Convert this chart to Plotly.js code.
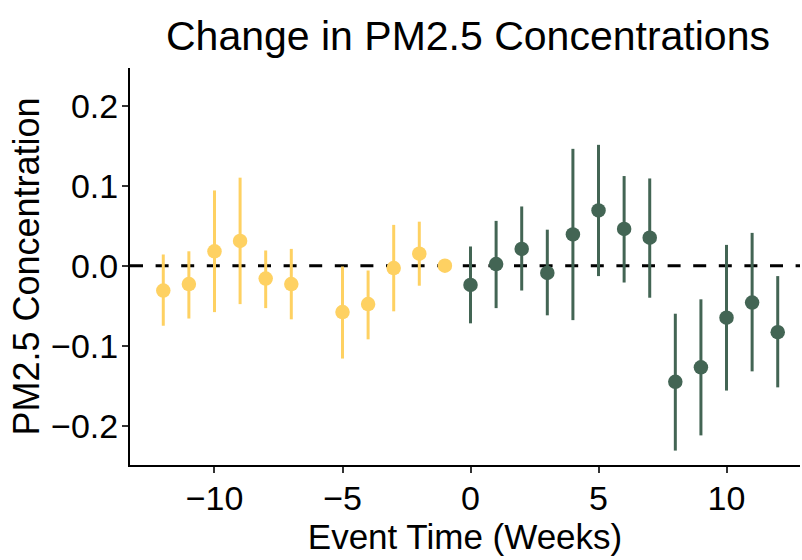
<!DOCTYPE html>
<html>
<head>
<meta charset="utf-8">
<script src="https://cdn.plot.ly/plotly-3.0.1.min.js"></script>
<style>html,body{margin:0;padding:0;background:#fff;}#chart{width:802px;height:560px;}</style>
</head>
<body>
<div id="chart"></div>
<script>
// Pre-event weeks
const preWeeks = [-12, -11, -10, -9, -8, -7, -5, -4, -3, -2, -1];
const preEst   = [-0.031, -0.023, 0.018, 0.031, -0.016, -0.023, -0.058, -0.048, -0.003, 0.015, 0.000];
const preHi    = [0.014, 0.018, 0.094, 0.110, 0.019, 0.021, -0.001, -0.006, 0.051, 0.055, 0.000];
const preLo    = [-0.075, -0.066, -0.058, -0.048, -0.053, -0.067, -0.116, -0.092, -0.057, -0.025, 0.000];

// Post-event weeks
const postWeeks = [0, 1, 2, 3, 4, 5, 6, 7, 8, 9, 10, 11, 12];
const postEst   = [-0.024, 0.002, 0.021, -0.009, 0.039, 0.069, 0.046, 0.035, -0.145, -0.127, -0.065, -0.046, -0.083];
const postHi    = [0.024, 0.056, 0.074, 0.045, 0.146, 0.151, 0.112, 0.109, -0.060, -0.042, 0.026, 0.041, -0.013];
const postLo    = [-0.072, -0.053, -0.031, -0.062, -0.068, -0.013, -0.021, -0.040, -0.231, -0.212, -0.156, -0.132, -0.152];

const xTicks = [-10, -5, 0, 5, 10];
const xTickText = ['\u221210', '\u22125', '0', '5', '10'];
const yTicks = [-0.2, -0.1, 0.0, 0.1, 0.2];
const yTickText = ['\u22120.2', '\u22120.1', '0.0', '0.1', '0.2'];

const yellow = '#FED162';
const green = '#436554';

function trace(x, est, hi, lo, color) {
  return {
    type: 'scatter', mode: 'markers', x: x, y: est,
    marker: {color: color, size: 14.5},
    error_y: {
      type: 'data', symmetric: false,
      array: hi.map((h, i) => h - est[i]),
      arrayminus: lo.map((l, i) => est[i] - l),
      color: color, thickness: 3, width: 0
    },
    hoverinfo: 'skip', showlegend: false
  };
}

const data = [
  trace(preWeeks, preEst, preHi, preLo, yellow),
  trace(postWeeks, postEst, postHi, postLo, green)
];

const fam = 'Liberation Sans, Arial, sans-serif';

const layout = {
  width: 802, height: 560,
  margin: {l: 130, r: 2, t: 68, b: 95},
  paper_bgcolor: '#fff', plot_bgcolor: '#fff',
  font: {family: fam, color: '#000'},
  title: {text: 'Change in PM2.5 Concentrations', x: 0.5835, xanchor: 'center', y: 0.936, yanchor: 'middle',
          font: {family: fam, size: 41, color: '#000'}},
  xaxis: {
    range: [-13.3, 12.87], showgrid: false, zeroline: false, automargin: false,
    showline: true, linecolor: '#000', linewidth: 2,
    ticks: 'outside', ticklen: 6, tickwidth: 2, tickcolor: '#333',
    ticklabelstandoff: -4,
    tickvals: xTicks, ticktext: xTickText,
    tickfont: {family: fam, size: 34, color: '#000'},
    title: {text: 'Event Time (Weeks)', font: {family: fam, size: 35, color: '#000'}, standoff: 0}
  },
  yaxis: {
    range: [-0.249, 0.247], showgrid: false, zeroline: false, automargin: false,
    showline: true, linecolor: '#000', linewidth: 2,
    ticks: 'outside', ticklen: 6, tickwidth: 2, tickcolor: '#333',
    ticklabelstandoff: -3,
    tickvals: yTicks, ticktext: yTickText,
    tickfont: {family: fam, size: 34, color: '#000'},
    title: {text: 'PM2.5 Concentration', font: {family: fam, size: 36, color: '#000'}, standoff: 0}
  },
  shapes: [{
    type: 'line', xref: 'paper', x0: 0, x1: 1, yref: 'y', y0: 0, y1: 0,
    line: {color: '#000', width: 3, dash: '13px,12.6px'}, layer: 'below'
  }]
};

Plotly.newPlot('chart', data, layout, {displayModeBar: false, staticPlot: true});
</script>
</body>
</html>
